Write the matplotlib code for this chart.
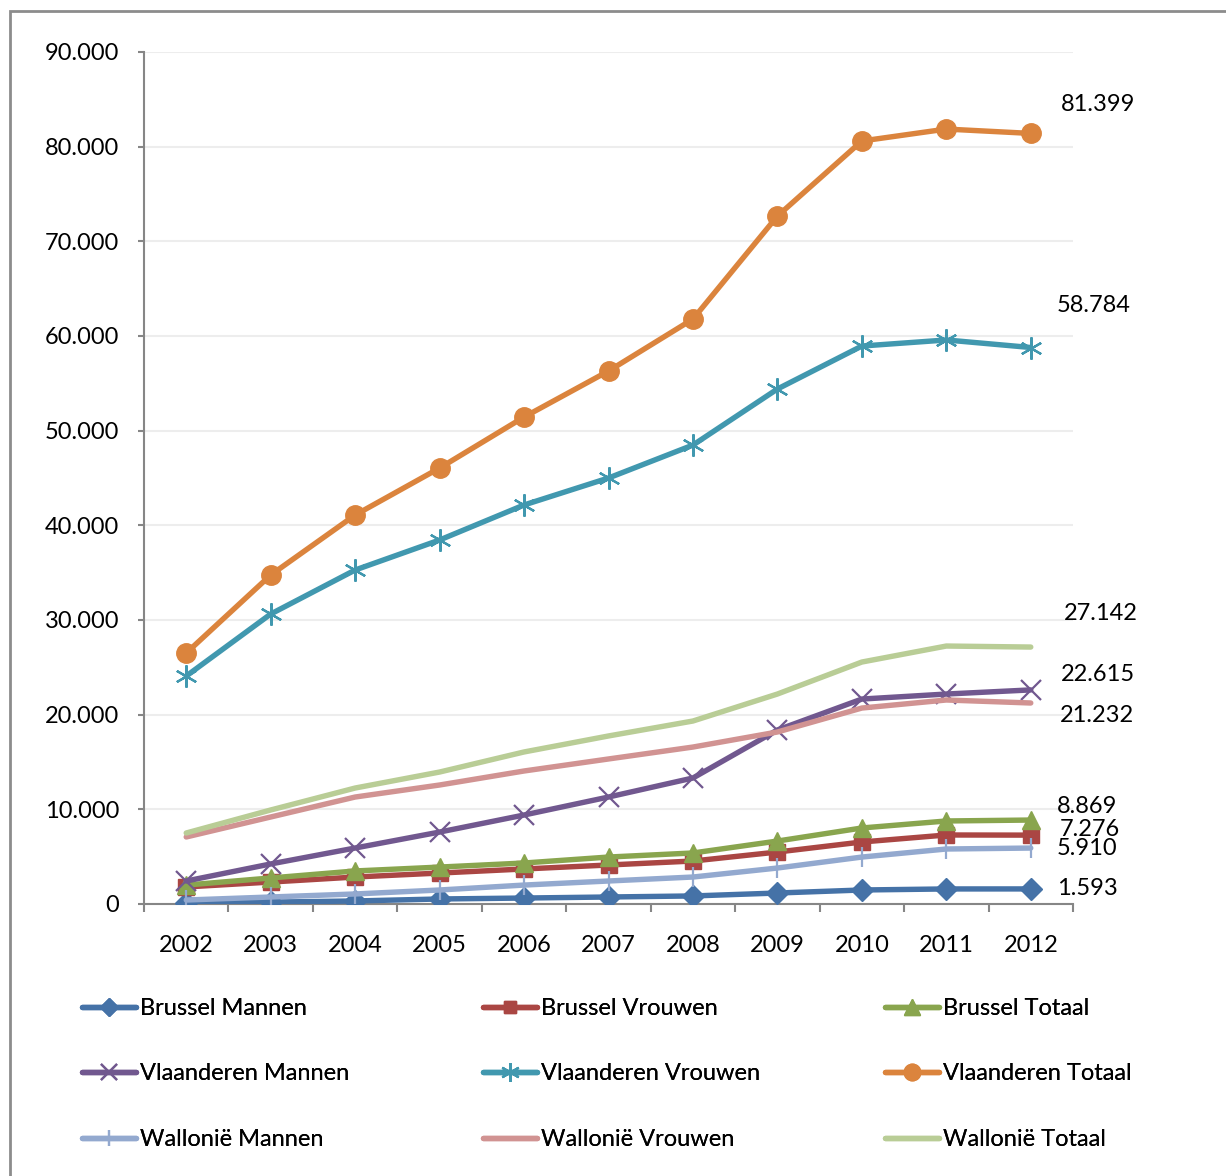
import matplotlib.pyplot as plt
from matplotlib.patches import Rectangle

plt.rcParams['font.family'] = ['Lato', 'DejaVu Sans']

years = ['2002', '2003', '2004', '2005', '2006', '2007', '2008', '2009', '2010', '2011', '2012']

brussel_mannen = [100, 200, 320, 530, 630, 740, 850, 1160, 1480, 1590, 1593]
brussel_vrouwen = [1800, 2320, 2850, 3270, 3700, 4120, 4540, 5490, 6550, 7290, 7276]
brussel_totaal = [2000, 2750, 3490, 3900, 4330, 4960, 5390, 6650, 8030, 8770, 8869]
vlaanderen_mannen = [2430, 4230, 5915, 7600, 9400, 11300, 13310, 18380, 21650, 22180, 22615]
vlaanderen_vrouwen = [24080, 30630, 35280, 38450, 42150, 45000, 48480, 54400, 58940, 59580, 58784]
vlaanderen_totaal = [26510, 34750, 41090, 46050, 51440, 56300, 61790, 72670, 80600, 81860, 81399]
wallonie_mannen = [420, 740, 1060, 1480, 2000, 2430, 2850, 3800, 4960, 5810, 5910]
wallonie_vrouwen = [7080, 9190, 11300, 12570, 14050, 15320, 16580, 18170, 20700, 21550, 21232]
wallonie_totaal = [7500, 9930, 12250, 13940, 16060, 17750, 19330, 22180, 25560, 27250, 27142]

end_labels = ['1.593', '7.276', '8.869', '22.615', '58.784', '81.399', '5.910', '21.232', '27.142']

series = [
    ('Brussel Mannen', brussel_mannen, '#4572A7', 'D', 11, 1),
    ('Brussel Vrouwen', brussel_vrouwen, '#AA4643', 's', 11, 1),
    ('Brussel Totaal', brussel_totaal, '#89A54E', '^', 13, 1),
    ('Vlaanderen Mannen', vlaanderen_mannen, '#71588F', 'x', 14, 1.6),
    ('Vlaanderen Vrouwen', vlaanderen_vrouwen, '#4198AF', (6, 2, 0), 16, 1.6),
    ('Vlaanderen Totaal', vlaanderen_totaal, '#DB843D', 'o', 14, 1),
    ('Wallonië Mannen', wallonie_mannen, '#93A9CF', '|', 14, 1.6),
    ('Wallonië Vrouwen', wallonie_vrouwen, '#D19392', None, 0, 1),
    ('Wallonië Totaal', wallonie_totaal, '#B9CD96', None, 0, 1),
]

# label offsets (points) from last point
label_offsets = [(19, 0), (21, 4), (19, 10), (22, 11), (19, 30), (22, 21), (19, 0), (21, -9), (24, 24)]

fs = 17

fig = plt.figure(figsize=(12.26, 11.76), dpi=100)
ax = fig.add_axes([144 / 1226, 1 - 904 / 1176, 929 / 1226, 852 / 1176])

x = list(range(len(years)))
handles = []
for (name, vals, col, mk, ms, mew), lab, off in zip(series, end_labels, label_offsets):
    h, = ax.plot(x, vals, color=col, lw=3.9, marker=mk, ms=ms, mew=mew,
                 mec=col, mfc=col, label=name, solid_capstyle='round', zorder=3)
    handles.append(h)
    ax.annotate(lab, (x[-1], vals[-1]), xytext=off, textcoords='offset points',
                ha='left', va='center', fontsize=fs)

ax.set_xlim(-0.5, len(years) - 0.5)
ax.set_ylim(0, 90000)
ax.set_yticks(range(0, 90001, 10000))
ax.set_yticklabels(['0'] + ['{:d}.000'.format(v) for v in range(10, 91, 10)], fontsize=fs)
ax.set_xticks(x)
ax.set_xticklabels(years, fontsize=fs)
ax.set_xticks([i - 0.5 for i in range(len(years) + 1)], minor=True)
ax.tick_params(axis='x', which='major', length=0, pad=22)
ax.tick_params(axis='x', which='minor', length=6, width=1.5, color='#868686', direction='out')
ax.tick_params(axis='y', length=4.5, width=1.5, color='#868686', pad=13.5)
ax.grid(axis='y', color='#EDEDED', lw=1.5, zorder=0)
for s in ['top', 'right']:
    ax.spines[s].set_visible(False)
for s in ['left', 'bottom']:
    ax.spines[s].set_color('#868686')
    ax.spines[s].set_linewidth(1.5)

# legend: one column per region group, rows = Mannen/Vrouwen/Totaal per region
col_x = [82, 483, 885]
for c in range(3):
    idx = [c, 3 + c, 6 + c]
    leg = fig.legend([handles[i] for i in idx], [series[i][0] for i in idx],
                     loc='upper left', bbox_to_anchor=(col_x[c] / 1226, 1 - 998 / 1176),
                     frameon=False, fontsize=fs, handlelength=2.3, handletextpad=0.17,
                     labelspacing=1.88, markerscale=0.85, borderpad=0, borderaxespad=0)
    fig.add_artist(leg)

fig.patches.append(Rectangle((10 / 1226, -0.01), 1.1, 1 - 11 / 1176 + 0.01,
                             transform=fig.transFigure, fill=False,
                             edgecolor='#8C8C8C', lw=2))

fig.savefig('out.png', dpi=100)
